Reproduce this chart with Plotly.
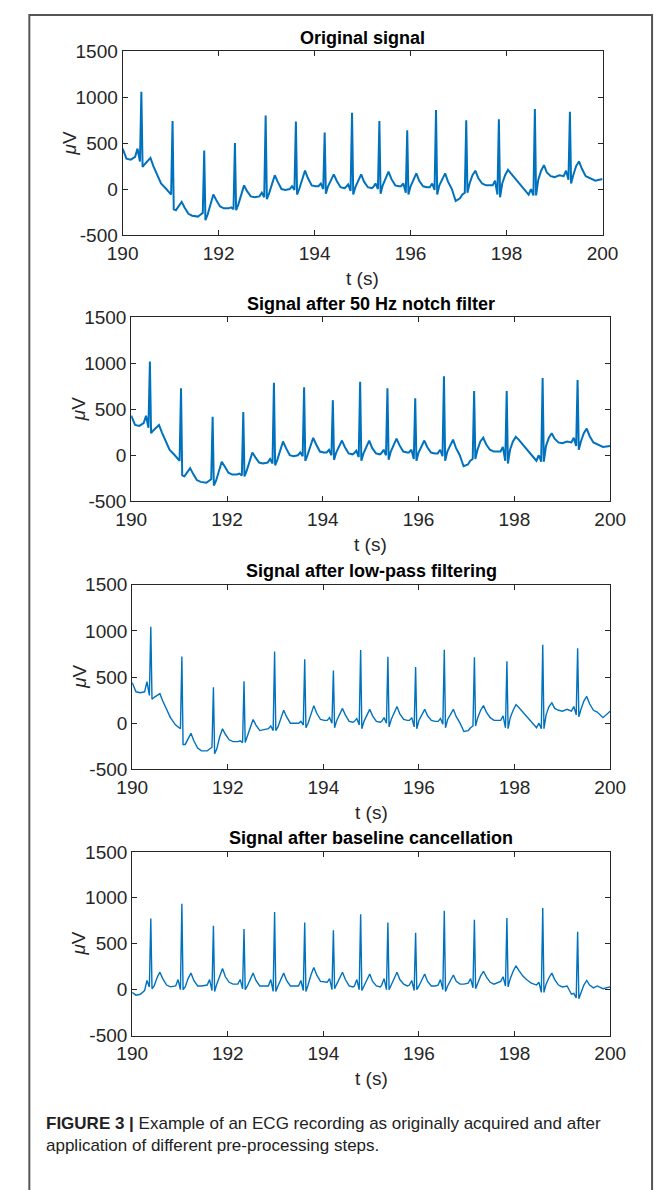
import plotly.graph_objects as go

W, H = 669, 1190

# ---------------- data ----------------
t = [190.00, 190.08, 190.17,
     190.26, 190.31, 190.36, 190.39, 190.415, 190.46, 190.52, 190.58, 190.64, 190.72, 190.80,
     190.91, 190.96, 191.01, 191.04, 191.065, 191.11, 191.17, 191.23, 191.29, 191.37, 191.45,
     191.57, 191.62, 191.67, 191.70, 191.725, 191.77, 191.83, 191.89, 191.95, 192.03, 192.11,
     192.21, 192.26, 192.31, 192.34, 192.365, 192.41, 192.47, 192.53, 192.59, 192.67, 192.75,
     192.85, 192.90, 192.95, 192.98, 193.005, 193.05, 193.11, 193.17, 193.23, 193.31, 193.39,
     193.48, 193.53, 193.58, 193.61, 193.635, 193.68, 193.74, 193.80, 193.86, 193.94, 194.02,
     194.08, 194.13, 194.18, 194.21, 194.235, 194.28, 194.34, 194.40, 194.46, 194.54, 194.62,
     194.65, 194.70, 194.75, 194.78, 194.805, 194.85, 194.91, 194.97, 195.03, 195.11, 195.19,
     195.22, 195.27, 195.32, 195.35, 195.375, 195.42, 195.48, 195.54, 195.60, 195.68, 195.76,
     195.80, 195.85, 195.90, 195.93, 195.955, 196.00, 196.06, 196.12, 196.18, 196.26, 196.34,
     196.40, 196.45, 196.50, 196.53, 196.555, 196.60, 196.66, 196.72, 196.78, 196.86, 196.94,
     197.03, 197.08, 197.13, 197.16, 197.185, 197.23, 197.29, 197.35, 197.41, 197.49, 197.57,
     197.71, 197.76, 197.81, 197.84, 197.865, 197.91, 197.97, 198.03, 198.09, 198.17, 198.25, 198.35,
     198.46, 198.51, 198.56, 198.59, 198.615, 198.66, 198.72, 198.78, 198.84, 198.92, 199.00, 199.10,
     199.19, 199.24, 199.29, 199.32, 199.345, 199.39, 199.45, 199.51, 199.57, 199.65, 199.73, 199.85, 200.00]

original = [440, 330, 320,
            350, 440, 300, 1060, 240, 270, 300, 340, 250, 150, 60,
            0, -30, -60, 740, -220, -230, -190, -140, -200, -270, -290,
            -300, -280, -260, 420, -340, -280, -160, -60, -120, -190, -210,
            -210, -200, -220, 500, -230, -170, -60, 40, -20, -80, -90,
            -80, -40, -90, 800, -110, -50, 60, 150, 80, 0, -10,
            0, 30, -10, 735, -60, 0, 100, 200, 120, 40, 30,
            30, 60, 0, 615, -50, 30, 100, 160, 90, 20, 10,
            20, 50, -20, 830, -60, 20, 90, 160, 80, 20, 10,
            20, 60, 0, 740, -50, 40, 120, 190, 110, 40, 30,
            30, 60, -40, 640, -60, 30, 100, 170, 90, 30, 20,
            20, 60, -10, 860, -60, 40, 100, 170, 80, 0, -130,
            -100, -60, -40, 750, -40, 60, 150, 200, 120, 60, 40,
            40, 90, -60, 760, -90, 60, 150, 210, 170, 120, 80, 20,
            -60, 0, -70, 870, -70, 100, 200, 260, 180, 140, 130, 150,
            140, 200, 100, 840, 60, 150, 250, 300, 220, 140, 120, 90, 110]

notch = [430, 330, 320,
         350, 430, 300, 1020, 240, 270, 300, 330, 250, 150, 60,
         0, -30, -60, 730, -220, -230, -190, -140, -200, -270, -290,
         -300, -280, -260, 420, -330, -280, -160, -70, -120, -190, -210,
         -210, -200, -220, 470, -230, -170, -60, 30, -20, -80, -90,
         -80, -40, -90, 790, -110, -50, 60, 150, 80, 0, -10,
         0, 30, -10, 740, -60, 0, 100, 190, 120, 40, 30,
         30, 60, 0, 600, -50, 30, 100, 160, 90, 20, 10,
         20, 50, -20, 800, -60, 20, 90, 160, 80, 20, 10,
         20, 60, 0, 730, -50, 40, 120, 180, 110, 40, 30,
         30, 60, -40, 620, -60, 30, 100, 160, 90, 30, 20,
         20, 60, -10, 860, -60, 40, 100, 170, 80, 0, -120,
         -100, -60, -40, 700, -40, 60, 150, 190, 120, 60, 40,
         40, 90, -60, 700, -90, 60, 150, 200, 170, 120, 80, 20,
         -60, 0, -70, 840, -70, 100, 190, 240, 180, 140, 130, 150,
         140, 190, 100, 820, 60, 150, 240, 290, 210, 140, 120, 90, 100]

lowpass = [440, 340, 330,
           340, 450, 300, 1043, 260, 280, 300, 320, 240, 150, 60,
           -20, -40, -60, 721, -230, -230, -170, -110, -190, -270, -300,
           -300, -280, -260, 389, -330, -280, -150, -60, -120, -180, -200,
           -200, -190, -210, 453, -210, -150, -50, 40, -20, -80, -70,
           -60, -30, -80, 775, -80, -40, 60, 140, 70, 0, 0,
           0, 20, -20, 693, -50, 0, 100, 190, 110, 40, 30,
           30, 60, 0, 571, -50, 30, 100, 160, 90, 20, 10,
           20, 50, -20, 793, -60, 20, 90, 150, 80, 20, 10,
           20, 60, 0, 718, -40, 40, 110, 180, 100, 40, 30,
           30, 60, -40, 607, -60, 30, 100, 150, 80, 30, 20,
           20, 50, -10, 796, -50, 40, 100, 150, 70, 0, -90,
           -80, -50, -30, 714, -30, 60, 140, 190, 120, 60, 30,
           30, 80, -50, 671, -60, 60, 140, 200, 170, 120, 80, 20,
           -50, 0, -60, 850, -60, 90, 180, 220, 160, 140, 130, 150,
           130, 180, 90, 811, 70, 150, 240, 290, 210, 140, 120, 60, 130]

baseline_cancel = [-30, -60, -50,
                   -10, 100, 30, 775, 10, 40, 130, 190, 120, 50, 30,
                   40, 110, 0, 936, 0, 30, 120, 180, 100, 40, 40,
                   50, 110, -10, 696, -20, 60, 150, 230, 140, 80, 60,
                   60, 110, 10, 661, 0, 40, 120, 180, 100, 40, 40,
                   40, 110, -20, 846, -20, 40, 120, 180, 100, 40, 40,
                   40, 100, -10, 732, -20, 50, 160, 240, 160, 90, 80,
                   80, 120, 0, 646, 10, 60, 130, 190, 110, 40, 30,
                   40, 110, 0, 821, -10, 40, 110, 170, 90, 40, 30,
                   50, 120, 0, 730, 0, 50, 130, 190, 110, 60, 40,
                   50, 100, -10, 620, 0, 40, 110, 170, 90, 40, 40,
                   50, 110, 0, 860, -20, 40, 110, 160, 90, 60, 60,
                   70, 120, 20, 760, 10, 70, 150, 200, 140, 80, 60,
                   90, 140, 40, 780, 30, 120, 200, 260, 210, 150, 110, 70,
                   50, 80, -30, 890, -30, 60, 130, 180, 110, 50, 30, 40,
                   -50, -40, -90, 630, -100, -30, 50, 100, 50, 20, 40, 10, 30]

titles = ["Original signal", "Signal after 50 Hz notch filter",
          "Signal after low-pass filtering", "Signal after baseline cancellation"]
series = [original, notch, lowpass, baseline_cancel]
x_ticks = [190, 192, 194, 196, 198, 200]
y_ticks = [-500, 0, 500, 1000, 1500]
y_ticklabels = ["-500", "0", "500", "1000", "1500"]
x_label = "t (s)"
y_label = "<i>μ</i>V"
caption = ("<b>FIGURE 3 |</b> Example of an ECG recording as originally acquired and after"
           "<br>application of different pre-processing steps.")

# ---------------- layout (pixel boxes of each panel) ----------------
boxes = [(112, 616, 42, 229), (121, 624, 313, 500), (122, 624, 585, 773), (122, 624, 857, 1044)]
widths = [2.0, 2.0, 1.4, 1.4]

fig = go.Figure()
annotations = []
axis_col = "#262626"
FONT = "Liberation Sans, Arial"
for i, (title, ys, (l, r, tp, bt), lw) in enumerate(zip(titles, series, boxes, widths)):
    n = "" if i == 0 else str(i + 1)
    fig.add_trace(go.Scatter(x=t, y=ys, mode="lines", line=dict(color="#0072BD", width=lw),
                             xaxis="x" + n, yaxis="y" + n, showlegend=False, hoverinfo="skip"))
    fig.layout["xaxis" + n] = dict(domain=[l / W, r / W], anchor="y" + n, range=[190, 200],
                                   tickvals=x_ticks, ticks="inside", ticklen=5, tickcolor=axis_col,
                                   showline=True, linecolor=axis_col, linewidth=1, mirror="ticks",
                                   showgrid=False, zeroline=False, ticklabelstandoff=1,
                                   tickfont=dict(family=FONT, size=19, color=axis_col))
    fig.layout["yaxis" + n] = dict(domain=[1 - bt / H, 1 - tp / H], anchor="x" + n, range=[-500, 1500],
                                   tickvals=y_ticks, ticktext=y_ticklabels, ticks="inside", ticklen=5,
                                   tickcolor=axis_col, showline=True, linecolor=axis_col, linewidth=1,
                                   mirror="ticks", showgrid=False, zeroline=False, ticklabelstandoff=0,
                                   tickfont=dict(family=FONT, size=19, color=axis_col))
    cx = (l + r) / 2 / W
    annotations.append(dict(text="<b>%s</b>" % title, x=cx, y=1 - (tp - 14) / H, xref="paper", yref="paper",
                            xanchor="center", yanchor="middle", showarrow=False,
                            font=dict(family=FONT, size=18, color="#000000")))
    annotations.append(dict(text=x_label, x=cx, y=1 - (bt + 44) / H, xref="paper", yref="paper",
                            xanchor="center", yanchor="middle", showarrow=False,
                            font=dict(family=FONT, size=19, color=axis_col)))
    annotations.append(dict(text=y_label, x=(l - 56) / W, y=1 - (tp + bt) / 2 / H, xref="paper", yref="paper",
                            xanchor="center", yanchor="middle", showarrow=False, textangle=-90,
                            font=dict(family=FONT, size=19, color=axis_col)))

annotations.append(dict(text=caption, x=29 / W, y=1 - 1145 / H, xref="paper", yref="paper",
                        xanchor="left", yanchor="middle", align="left", showarrow=False,
                        font=dict(family=FONT, size=17, color="#222222")))

fig.update_layout(width=W, height=H, margin=dict(l=0, r=0, t=0, b=0),
                  paper_bgcolor="white", plot_bgcolor="white", annotations=annotations,
                  shapes=[dict(type="rect", xref="paper", yref="paper", x0=14 / W, x1=668 / W,
                               y0=-0.02, y1=1 - 5 / H, line=dict(color="#555555", width=2))])

fig.write_html("out.html")
